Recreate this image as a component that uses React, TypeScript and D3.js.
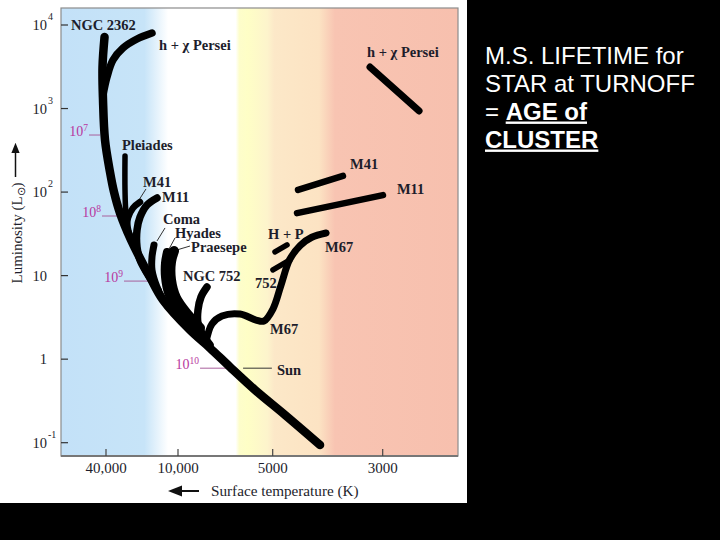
import React from "react";
import * as d3 from "d3";

// ---------- axis data ----------
const tempTicks = [40000, 10000, 5000, 3000];
const tempTickLabels = ["40,000", "10,000", "5000", "3000"];
const lumTicks = [1e4, 1e3, 1e2, 10, 1, 0.1];
const lumTickBase = ["10", "10", "10", "10", "1", "10"];
const lumTickExp = ["4", "3", "2", "", "", "-1"];

// ---------- cluster tracks: [temperature K, luminosity Lsun] ----------
const zamsNGC2362 = [[41150, 7180], [42780, 3140], [42370, 1265], [40770, 420], [37030, 174], [34280, 100], [30550, 56], [24710, 26.7], [17140, 9.6], [13350, 5.1], [9160, 2.23], [7910, 1.36], [6830, 0.805], [5690, 0.428], [4721, 0.215], [4013, 0.094]];
const hChiPerseiMS = [[42370, 1452], [39240, 2385], [34960, 3810], [28840, 5305], [22020, 6800], [16500, 8020]];
const pleiades = [[27740, 270], [27740, 106], [27210, 56], [25190, 30.6], [20780, 16.3], [16500, 8.87]];
const m41MS = [[20780, 76], [23780, 64.5], [26180, 49], [26690, 33]];
const m11MS = [[14980, 85], [18160, 70], [20780, 50], [22020, 35], [22020, 22], [20780, 15.4], [18160, 10.7], [14700, 6.7]];
const coma = [[15880, 23.3], [16500, 16.7], [16500, 11.7], [14980, 7.3], [12840, 4.7], [9855, 3.11]];
const hyades = [[12360, 19.2], [12840, 14.2], [12840, 9.6], [12100, 6.2], [10390, 4.0], [8830, 2.56]];
const praesepe = [[10800, 19.7], [11440, 14.6], [11440, 8.87], [10390, 5.4], [9290, 3.38], [8510, 2.36]];
const ngc752MS = [[8090, 7.3], [8450, 5.55], [8640, 3.87], [8640, 2.71], [8330, 1.95], [7910, 1.48]];
const m67 = [[8150, 1.6], [7800, 2.64], [7250, 3.29], [6350, 3.47], [5650, 2.94], [5330, 2.86], [4995, 3.98], [4810, 7.7], [4620, 15.6], [4400, 23], [4170, 28.8], [3902, 32.4]];
const m41Giants = [[4445, 106], [3608, 156]];
const m11Giants = [[4466, 56], [2996, 92]];
const hpGiants = [[4947, 19.2], [4678, 23.3]];
const ngc752Giants = [[4995, 11.7], [4614, 15.4]];
const hChiPerseiRSG = [[3182, 3140], [2534, 935]];

// ---------- annotations ----------
const labelTexts = ["NGC 2362", "h + χ Persei", "Pleiades", "M41", "M11", "Coma", "Hyades", "Praesepe", "NGC 752", "H + P", "752", "M67", "M67", "M41", "M11", "h + χ Persei", "Sun"];
const labelT = [78460, 14420, 29390, 19620, 13610, 13350, 10600, 9090, 9640, 5175, 5690, 3920, 5100, 3491, 2808, 3227, 4902];
const labelL = [10000, 5765, 366, 132, 87, 47.6, 32.4, 22, 9.9, 31.8, 8.2, 22, 2.3, 217, 109, 4750, 0.741];

const leaderSegs = [[21190, 80.4, 18520, 109], [14980, 26, 12840, 37.2], [11890, 20.8, 10600, 28.2], [10195, 20.3, 9160, 22.6], [6210, 0.78, 5030, 0.78]];

const ageExp = ["7", "8", "9", "10"];
const ageL = [482, 51.7, 8.6, 0.78];
const ageTStart = [55470, 43200, 28280, 8510];
const ageTEnd = [44870, 31760, 17810, 6740];

// ---------- styles ----------
const tracks: [number[][], number][] = [
  [zamsNGC2362, 8.5],
  [hChiPerseiMS, 7.5],
  [pleiades, 5.5],
  [m41MS, 6.5],
  [m11MS, 7.5],
  [coma, 7],
  [hyades, 8],
  [praesepe, 10],
  [ngc752MS, 7.5],
  [m67, 7],
  [m41Giants, 6.5],
  [m11Giants, 6.5],
  [hpGiants, 5.5],
  [ngc752Giants, 5.5],
  [hChiPerseiRSG, 7],
];

const SERIF = "'Liberation Serif', 'Times New Roman', serif";
const SANS = "'Liberation Sans', Arial, sans-serif";
const INK = "#1d1d2b";
const PINK = "#b8379e";

export default function App() {
  const pl = 61, pr = 458, pt = 8, pb = 456;
  const x = d3.scaleLog().domain(tempTicks).range([106, 178, 272.7, 382.7]);
  const y = d3.scaleLog().domain([0.1, 1e4]).range([442.7, 25]);
  const line = d3
    .line<number[]>()
    .x((d) => x(d[0]))
    .y((d) => y(d[1]))
    .curve(d3.curveCatmullRom.alpha(0.5));

  return (
    <div style={{ position: "fixed", left: 0, top: 0, width: 720, height: 540, background: "#000" }}>
      <svg width={720} height={540} style={{ display: "block" }}>
        <defs>
          <linearGradient id="bg" x1="0" x2="1" y1="0" y2="0">
            <stop offset="0" stopColor="#c3e1f8" />
            <stop offset="0.21" stopColor="#c7e4f8" />
            <stop offset="0.27" stopColor="#ffffff" />
            <stop offset="0.44" stopColor="#ffffff" />
            <stop offset="0.449" stopColor="#fdfdcb" />
            <stop offset="0.47" stopColor="#fefec6" />
            <stop offset="0.52" stopColor="#fdf4cc" />
            <stop offset="0.537" stopColor="#fce8c8" />
            <stop offset="0.65" stopColor="#fce3c3" />
            <stop offset="0.69" stopColor="#f8c4b2" />
            <stop offset="1" stopColor="#f7c0ae" />
          </linearGradient>
          <marker id="ah" viewBox="0 0 10 10" refX="5" refY="5" markerWidth="7" markerHeight="7" orient="auto-start-reverse">
            <path d="M0,1 L10,5 L0,9 z" fill="#111" />
          </marker>
        </defs>
        <rect x={0} y={0} width={467} height={503} fill="#fff" />
        <rect x={pl} y={pt} width={pr - pl} height={pb - pt} fill="url(#bg)" stroke="#8c8c8c" strokeWidth={1.2} />
        <line x1={pl} x2={pr} y1={pb} y2={pb} stroke="#777" strokeWidth={2} />

        {/* y ticks */}
        {lumTicks.map((v, i) => (
          <g key={"yt" + i}>
            <line x1={pl} x2={pl + 7} y1={y(v)} y2={y(v)} stroke="#333" strokeWidth={1.2} />
            <text x={47} y={y(v)} dy="0.35em" textAnchor="end" fontFamily={SERIF} fontSize={14.5} fill={INK}>
              {lumTickBase[i]}
            </text>
            {lumTickExp[i] && (
              <text x={48} y={y(v) - 5} fontFamily={SERIF} fontSize={10} fill={INK}>
                {lumTickExp[i]}
              </text>
            )}
          </g>
        ))}
        {/* x ticks */}
        {tempTicks.map((v, i) => (
          <g key={"xt" + i}>
            <line x1={x(v)} x2={x(v)} y1={pb - 7} y2={pb} stroke="#444" strokeWidth={1.2} />
            <text x={x(v)} y={472.5} textAnchor="middle" fontFamily={SERIF} fontSize={15} fill={INK}>
              {tempTickLabels[i]}
            </text>
          </g>
        ))}

        {/* axis titles */}
        <line x1={199} x2={175} y1={491} y2={491} stroke="#111" strokeWidth={2} markerEnd="url(#ah)" />
        <text x={211} y={495.5} fontFamily={SERIF} fontSize={15.2} fill={INK}>
          Surface temperature (K)
        </text>
        <line x1={15.5} x2={15.5} y1={177} y2={148} stroke="#111" strokeWidth={1.5} markerEnd="url(#ah)" />
        <text transform="translate(22,233) rotate(-90)" textAnchor="middle" fontFamily={SERIF} fontSize={15} fill={INK}>
          Luminosity (L<tspan fontSize={11} dy={3}>⊙</tspan><tspan dy={-3}>)</tspan>
        </text>

        {/* age leaders */}
        {ageExp.map((e, i) => (
          <g key={"age" + i}>
            <line x1={x(ageTStart[i])} x2={x(ageTEnd[i])} y1={y(ageL[i])} y2={y(ageL[i])} stroke="#a8609c" strokeWidth={1} />
            <text x={x(ageTStart[i]) - 1} y={y(ageL[i]) + 1} textAnchor="end" fontFamily={SERIF} fontSize={14} fill={PINK}>
              10<tspan fontSize={9.5} dy={-5}>{e}</tspan>
            </text>
          </g>
        ))}
        {/* label leaders */}
        {leaderSegs.map((s, i) => (
          <line key={"ld" + i} x1={x(s[0])} y1={y(s[1])} x2={x(s[2])} y2={y(s[3])} stroke="#333" strokeWidth={1} />
        ))}

        {/* tracks */}
        {tracks.map(([pts, w], i) => (
          <path key={"tr" + i} d={line(pts) || ""} fill="none" stroke="#000" strokeWidth={w} strokeLinecap="round" strokeLinejoin="round" />
        ))}

        {/* labels */}
        {labelTexts.map((t, i) => (
          <text key={"lb" + i} x={x(labelT[i])} y={y(labelL[i])} dy="0.35em" fontFamily={SERIF} fontSize={14.5} fontWeight="bold" fill={INK}>
            {t}
          </text>
        ))}

        {/* right-hand note */}
        <g fontFamily={SANS} fontSize={24} fill="#fff">
          <text x={485} y={63.5}>M.S. LIFETIME for</text>
          <text x={485} y={91.5}>STAR at TURNOFF</text>
          <text x={485} y={119.5}>
            = <tspan style={{ textDecoration: "underline" }} fontWeight="bold">AGE of</tspan>
          </text>
          <text x={485} y={147.5} fontWeight="bold" style={{ textDecoration: "underline" }}>
            CLUSTER
          </text>
        </g>
      </svg>
    </div>
  );
}
